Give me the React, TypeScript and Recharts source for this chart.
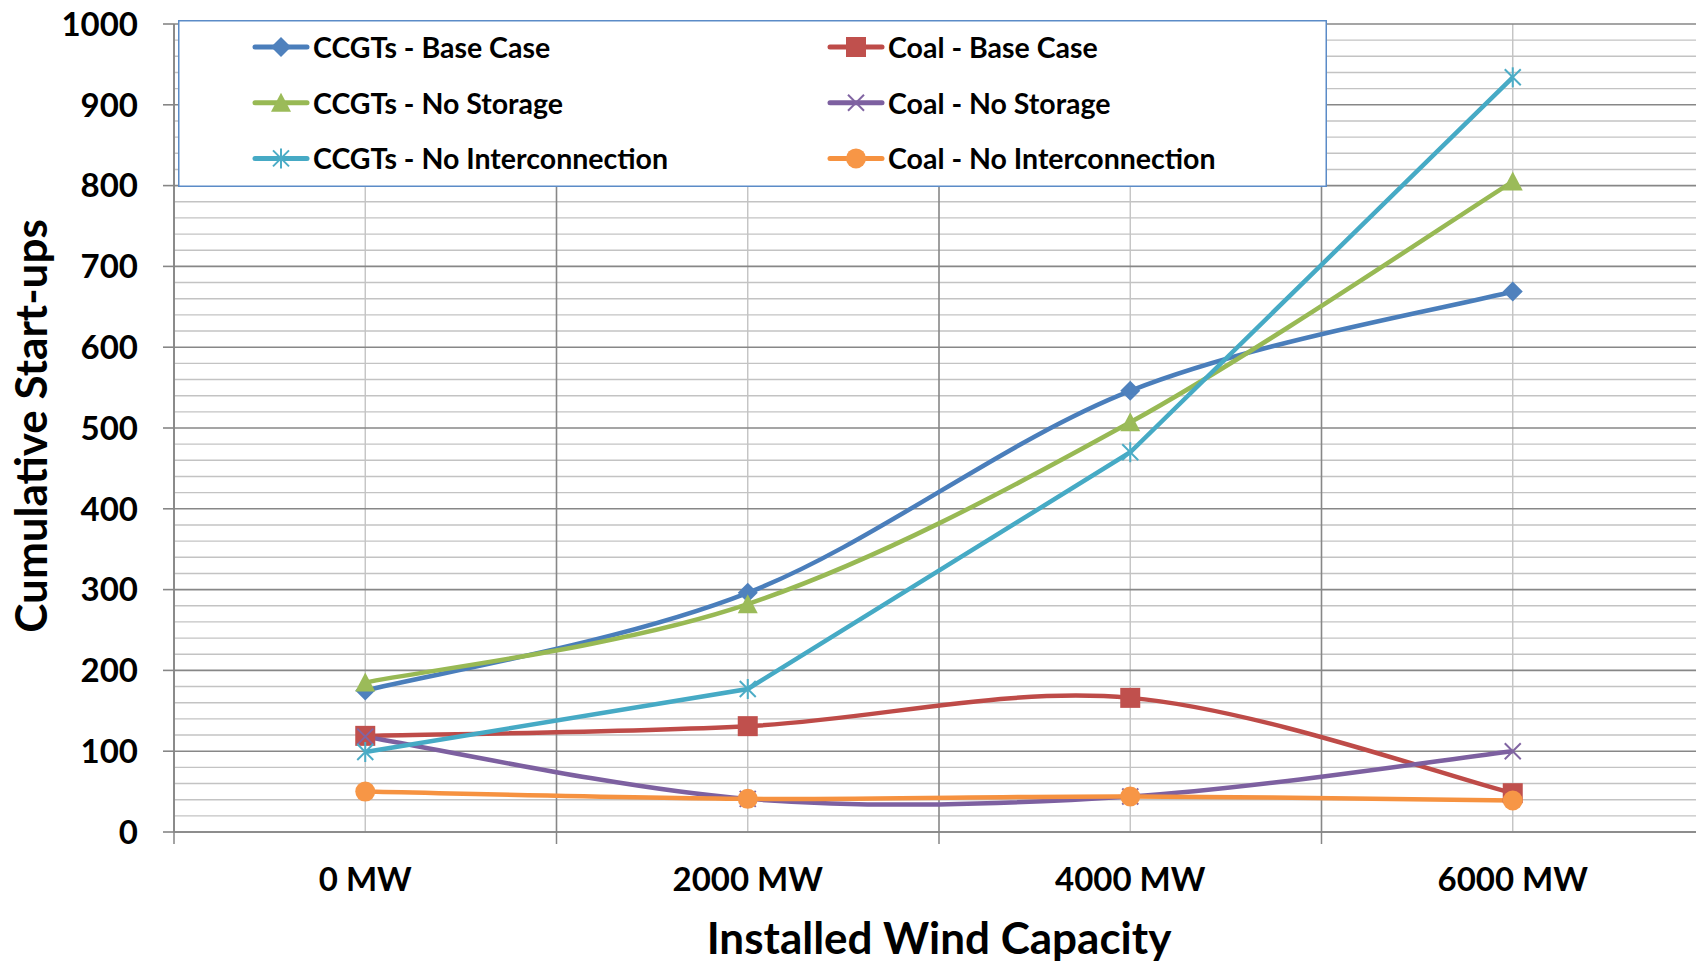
import React from 'react';
import { LineChart, Line, XAxis, YAxis, CartesianGrid, Legend } from 'recharts';

// ---- data ----
const windCapacity = [0, 2000, 4000, 6000];
const xTickLabels = ['0 MW', '2000 MW', '4000 MW', '6000 MW'];
const categoryBounds = [-1000, 1000, 3000, 5000, 7000];

const ccgtBase = [175, 296, 546, 669];
const coalBase = [119, 131, 166, 48];
const ccgtNoStorage = [185, 282, 507, 805];
const coalNoStorage = [118, 41, 44, 100];
const ccgtNoInter = [99, 177, 470, 934];
const coalNoInter = [50, 41, 44, 39];

const yTicks = [0, 100, 200, 300, 400, 500, 600, 700, 800, 900, 1000];
const yMinorTicks: number[] = [];
for (let v = 20; v < 1000; v += 20) if (v % 100 !== 0) yMinorTicks.push(v);

const FONT = 'Lato, "Open Sans", "DejaVu Sans", sans-serif';

type MarkerKind = 'diamond' | 'square' | 'triangle' | 'x' | 'star' | 'circle';
interface Series { key: string; name: string; values: number[]; line: string; fill: string; marker: MarkerKind; smooth: boolean; }

const series: Series[] = [
  { key: 'ccgtBase', name: 'CCGTs - Base Case', values: ccgtBase, line: '#4A7EBB', fill: '#4F81BD', marker: 'diamond', smooth: true },
  { key: 'coalBase', name: 'Coal - Base Case', values: coalBase, line: '#BE4B48', fill: '#C0504D', marker: 'square', smooth: true },
  { key: 'ccgtNoStorage', name: 'CCGTs - No Storage', values: ccgtNoStorage, line: '#98B954', fill: '#9BBB59', marker: 'triangle', smooth: true },
  { key: 'coalNoStorage', name: 'Coal - No Storage', values: coalNoStorage, line: '#7D60A0', fill: '#8064A2', marker: 'x', smooth: true },
  { key: 'ccgtNoInter', name: 'CCGTs - No Interconnection', values: ccgtNoInter, line: '#46AAC5', fill: '#4BACC6', marker: 'star', smooth: false },
  { key: 'coalNoInter', name: 'Coal - No Interconnection', values: coalNoInter, line: '#F69240', fill: '#F79646', marker: 'circle', smooth: true },
];

const data = windCapacity.map((w, i) => {
  const row: any = { wind: w };
  series.forEach((s) => { row[s.key] = s.values[i]; });
  return row;
});

// Excel-like smoothed line (Catmull-Rom style bezier)
const excelCurve: any = (context: any) => {
  let pts: [number, number][] = [];
  return {
    areaStart() {},
    areaEnd() {},
    lineStart() { pts = []; },
    point(x: number, y: number) { pts.push([+x, +y]); },
    lineEnd() {
      const n = pts.length;
      if (!n) return;
      context.moveTo(pts[0][0], pts[0][1]);
      const t = 1 / 6;
      for (let i = 0; i < n - 1; i++) {
        const p0 = pts[Math.max(0, i - 1)];
        const p1 = pts[i];
        const p2 = pts[i + 1];
        const p3 = pts[Math.min(n - 1, i + 2)];
        context.bezierCurveTo(
          p1[0] + (p2[0] - p0[0]) * t, p1[1] + (p2[1] - p0[1]) * t,
          p2[0] - (p3[0] - p1[0]) * t, p2[1] - (p3[1] - p1[1]) * t,
          p2[0], p2[1]
        );
      }
    },
  };
};

function Marker({ kind, cx, cy, color }: { kind: MarkerKind; cx: number; cy: number; color: string }) {
  switch (kind) {
    case 'diamond': {
      const r = 10;
      return <polygon points={`${cx},${cy - r} ${cx + r},${cy} ${cx},${cy + r} ${cx - r},${cy}`} fill={color} />;
    }
    case 'square': {
      const h = 10;
      return <rect x={cx - h} y={cy - h} width={2 * h} height={2 * h} fill={color} />;
    }
    case 'triangle':
      return <polygon points={`${cx},${cy - 10} ${cx + 10},${cy + 9} ${cx - 10},${cy + 9}`} fill={color} />;
    case 'x': {
      const r = 8;
      return (
        <g stroke={color} strokeWidth={2}>
          <line x1={cx - r} y1={cy - r} x2={cx + r} y2={cy + r} />
          <line x1={cx - r} y1={cy + r} x2={cx + r} y2={cy - r} />
        </g>
      );
    }
    case 'star': {
      const r = 8;
      return (
        <g stroke={color} strokeWidth={2}>
          <line x1={cx - r} y1={cy - r} x2={cx + r} y2={cy + r} />
          <line x1={cx - r} y1={cy + r} x2={cx + r} y2={cy - r} />
          <line x1={cx} y1={cy - r - 2} x2={cx} y2={cy + r + 2} />
        </g>
      );
    }
    case 'circle':
    default:
      return <circle cx={cx} cy={cy} r={10} fill={color} />;
  }
}

const makeDot = (s: Series) => (props: any) => {
  const { cx, cy, index } = props;
  if (cx == null || cy == null) return <g key={`${s.key}-${index}`} />;
  return (
    <g key={`${s.key}-${index}`}>
      <Marker kind={s.marker} cx={cx} cy={cy} color={s.fill} />
    </g>
  );
};

const XTick = (props: any) => {
  const { x, y, payload } = props;
  const idx = windCapacity.indexOf(payload.value);
  if (idx < 0) {
    return <line x1={x} x2={x} y1={y} y2={y + 12} stroke="#868686" strokeWidth={1.5} />;
  }
  return (
    <text x={x} y={y + 59} textAnchor="middle" fill="#000" fontSize={33} fontWeight={700} fontFamily={FONT}>
      {xTickLabels[idx]}
    </text>
  );
};

const YTitle = (props: any) => {
  const vb = props.viewBox || {};
  const cx = 30;
  const cy = vb.height ? vb.y + vb.height / 2 - 2 : 424;
  return (
    <text x={cx} y={cy} transform={`rotate(-90 ${cx} ${cy})`} textAnchor="middle" dominantBaseline="central"
      fill="#000" fontSize={44} fontWeight={700} fontFamily={FONT}>
      Cumulative Start-ups
    </text>
  );
};

const XTitle = (props: any) => {
  const vb = props.viewBox || {};
  const cx = vb.width ? vb.x + vb.width / 2 : 939;
  const y = (vb.y != null ? vb.y : 832) + 122;
  return (
    <text x={cx} y={y} textAnchor="middle" fill="#000" fontSize={44} fontWeight={700} fontFamily={FONT}>
      Installed Wind Capacity
    </text>
  );
};

const LEG_W = 1149;
const LEG_H = 167;

const renderLegend = () => (
  <svg width={LEG_W} height={LEG_H} style={{ display: 'block' }}>
    <rect x={0.75} y={0.75} width={LEG_W - 1.5} height={LEG_H - 1.5} fill="#FFFFFF" stroke="#5B8BC7" strokeWidth={1.5} />
    {series.map((s, i) => {
      const col = i % 2;
      const row = Math.floor(i / 2);
      const lx = col === 0 ? 75 : 650;
      const cy = 27 + row * 55.7;
      return (
        <g key={s.key}>
          <line x1={lx + 2} x2={lx + 54} y1={cy} y2={cy} stroke={s.line} strokeWidth={5} strokeLinecap="round" />
          <Marker kind={s.marker} cx={lx + 28} cy={cy} color={s.fill} />
          <text x={lx + 60} y={cy} dominantBaseline="central" fill="#000" fontSize={28.5} fontWeight={700} fontFamily={FONT}>
            {s.name}
          </text>
        </g>
      );
    })}
  </svg>
);

export default function App() {
  return (
    <div style={{ position: 'absolute', left: 0, top: 0, width: 1696, height: 963, overflow: 'hidden', background: '#FFFFFF' }}>
      <LineChart width={1710} height={963} data={data} margin={{ top: 24, right: 6, bottom: 0, left: 0 }} style={{ fontFamily: FONT }}>
        <CartesianGrid horizontalValues={yMinorTicks} verticalValues={windCapacity} stroke="#C3C3C3" strokeWidth={1.4} />
        <CartesianGrid horizontalValues={yTicks} verticalValues={categoryBounds} stroke="#878787" strokeWidth={1.6} />
        <XAxis
          dataKey="wind"
          type="number"
          domain={[-1000, 7000]}
          ticks={[-1000, 0, 1000, 2000, 3000, 4000, 5000, 6000, 7000]}
          interval={0}
          allowDataOverflow
          tickSize={0}
          tickMargin={0}
          tickLine={false}
          tick={<XTick />}
          axisLine={{ stroke: '#868686', strokeWidth: 1.6 }}
          height={131}
          label={<XTitle />}
        />
        <YAxis
          type="number"
          domain={[0, 1000]}
          ticks={yTicks}
          interval={0}
          tickSize={11}
          tickMargin={25}
          tickLine={{ stroke: '#868686', strokeWidth: 1.6 }}
          axisLine={{ stroke: '#868686', strokeWidth: 1.6 }}
          tick={{ fill: '#000', fontSize: 33, fontWeight: 700, fontFamily: FONT }}
          width={174}
          label={<YTitle />}
        />
        <Legend
          layout="horizontal"
          verticalAlign="middle"
          align="center"
          content={renderLegend}
          wrapperStyle={{ position: 'absolute', left: 178, top: 20, width: LEG_W, height: LEG_H }}
        />
        {series.map((s) => (
          <Line
            key={s.key}
            dataKey={s.key}
            name={s.name}
            type={s.smooth ? excelCurve : 'linear'}
            stroke={s.line}
            strokeWidth={4.5}
            dot={makeDot(s)}
            activeDot={false}
            isAnimationActive={false}
          />
        ))}
      </LineChart>
    </div>
  );
}
